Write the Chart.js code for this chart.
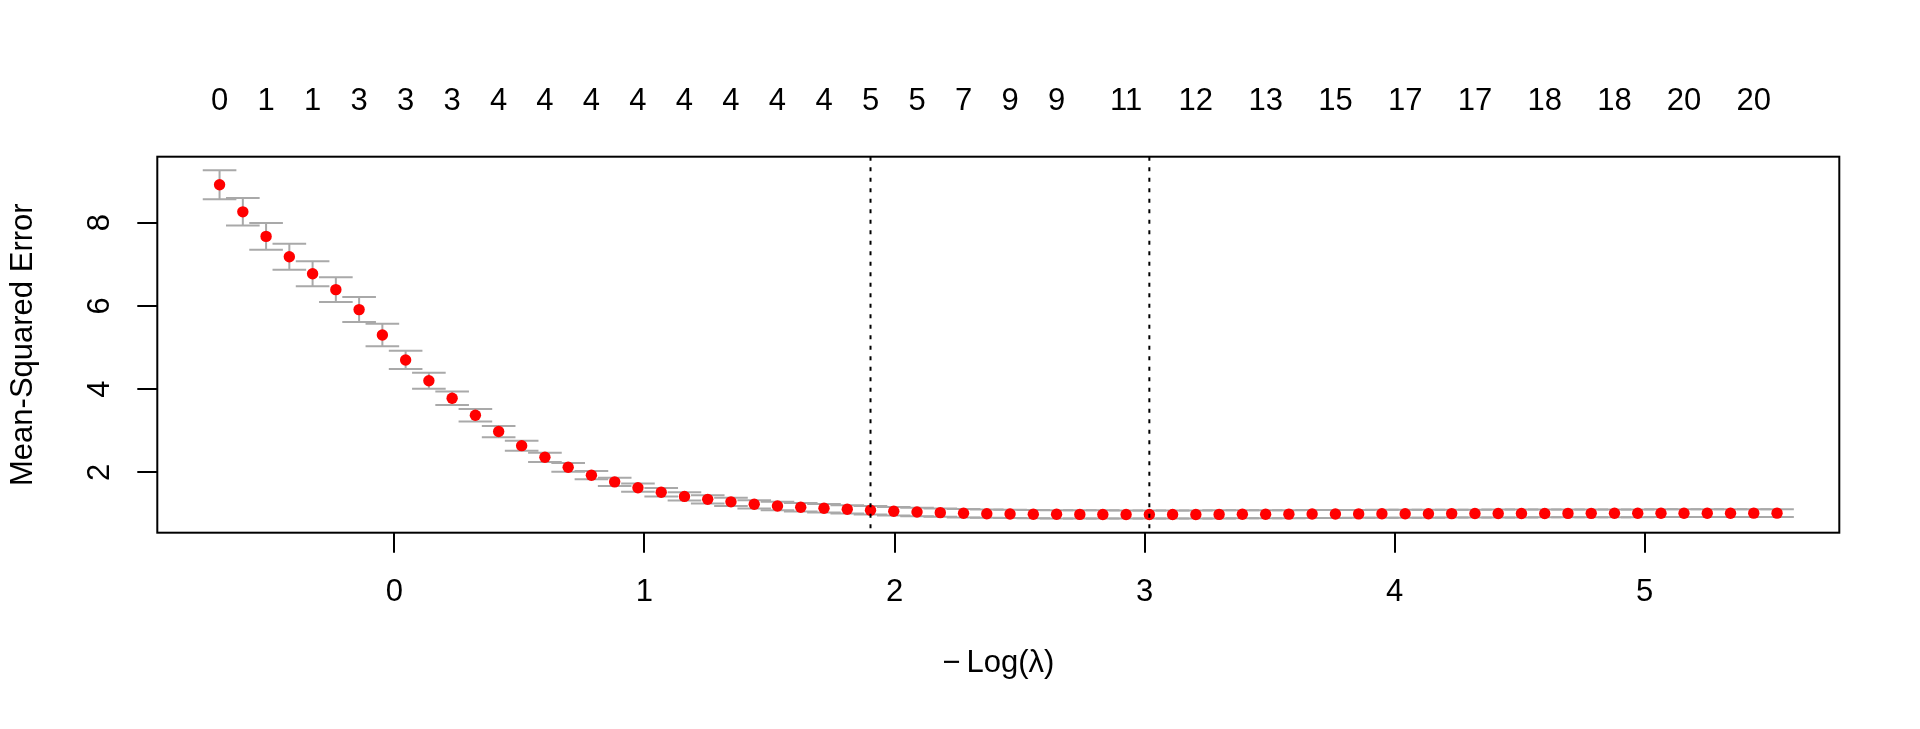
<!DOCTYPE html>
<html>
<head>
<meta charset="utf-8">
<title>cv.glmnet</title>
<script src="https://cdn.jsdelivr.net/npm/chart.js@4.4.1/dist/chart.umd.min.js"></script>
<style>
    html, body { margin: 0; padding: 0; background: #fff; }
    #wrap { width: 1920px; height: 729px; }
</style>
</head>
<body>
<div id="wrap"><canvas id="cvChart" width="1920" height="729"></canvas></div>
<script>
// -log(lambda) for each fitted lambda
const logLambda = [
    -0.699, -0.606, -0.513, -0.420, -0.327, -0.234, -0.141, -0.048, 0.045, 0.138,
    0.231, 0.324, 0.417, 0.509, 0.602, 0.695, 0.788, 0.881, 0.974, 1.067,
    1.160, 1.253, 1.346, 1.439, 1.532, 1.625, 1.718, 1.811, 1.904, 1.997,
    2.090, 2.183, 2.276, 2.369, 2.462, 2.555, 2.648, 2.741, 2.833, 2.926,
    3.019, 3.112, 3.205, 3.298, 3.391, 3.484, 3.577, 3.670, 3.763, 3.856,
    3.949, 4.042, 4.135, 4.228, 4.321, 4.414, 4.507, 4.600, 4.693, 4.786,
    4.879, 4.972, 5.065, 5.157, 5.250, 5.343, 5.436, 5.529
];

// cross-validated mean squared error
const cvm = [
    8.91, 8.26, 7.67, 7.18, 6.77, 6.39, 5.91, 5.30, 4.70, 4.20,
    3.78, 3.37, 2.98, 2.64, 2.36, 2.12, 1.93, 1.77, 1.63, 1.52,
    1.42, 1.35, 1.29, 1.23, 1.19, 1.16, 1.135, 1.11, 1.087, 1.063,
    1.046, 1.030, 1.015, 1.005, 0.998, 0.993, 0.990, 0.988, 0.987, 0.986,
    0.985, 0.986, 0.987, 0.988, 0.990, 0.992, 0.994, 0.996, 0.998, 1.000,
    1.002, 1.004, 1.005, 1.007, 1.008, 1.009, 1.010, 1.011, 1.012, 1.013,
    1.014, 1.015, 1.016, 1.016, 1.017, 1.017, 1.018, 1.018
];

// standard error of the cv estimate
const cvsd = [
    0.35, 0.33, 0.32, 0.31, 0.30, 0.30, 0.30, 0.27, 0.22, 0.19,
    0.16, 0.15, 0.135, 0.12, 0.11, 0.105, 0.10, 0.10, 0.10, 0.10,
    0.10, 0.10, 0.10, 0.10, 0.10, 0.10, 0.10, 0.10, 0.10, 0.10,
    0.10, 0.10, 0.10, 0.099, 0.099, 0.099, 0.098, 0.098, 0.098, 0.098,
    0.098, 0.097, 0.097, 0.097, 0.097, 0.096, 0.096, 0.096, 0.096, 0.095,
    0.095, 0.095, 0.095, 0.095, 0.094, 0.094, 0.094, 0.094, 0.094, 0.094,
    0.093, 0.093, 0.093, 0.093, 0.093, 0.093, 0.093, 0.093
];

// number of nonzero coefficients shown on the top axis
const topTickIdx = [0, 2, 4, 6, 8, 10, 12, 14, 16, 18, 20, 22, 24, 26, 28, 30, 32, 34, 36,
                    39, 42, 45, 48, 51, 54, 57, 60, 63, 66];
const topTickLabels = ['0', '1', '1', '3', '3', '3', '4', '4', '4', '4', '4', '4', '4', '4',
                       '5', '5', '7', '9', '9', '11', '12', '13', '15', '17', '17', '18', '18', '20', '20'];

const xTicks = [0, 1, 2, 3, 4, 5];
const yTicks = [2, 4, 6, 8];

const lambda1seIdx = 28;
const lambdaMinIdx = 40;

const X_MIN = -0.948, X_MAX = 5.778;
const Y_MIN = 0.548, Y_MAX = 9.585;
const FONT = '"Liberation Sans", Arial, Helvetica, sans-serif';
const FONT_SIZE = 31;

(function() {
    const points = logLambda.map((x, i) => ({ x: x, y: cvm[i] }));

    // grey error bars, drawn under the red points
    const errorBars = {
        id: 'errorBars',
        beforeDatasetsDraw(chart) {
            const { ctx, scales: { x, y } } = chart;
            const barw = (X_MAX - X_MIN) * 0.01;
            ctx.save();
            ctx.strokeStyle = '#a9a9a9';
            ctx.lineWidth = 2;
            logLambda.forEach((lx, i) => {
                const up = y.getPixelForValue(cvm[i] + cvsd[i]);
                const lo = y.getPixelForValue(cvm[i] - cvsd[i]);
                const px = x.getPixelForValue(lx);
                const l = x.getPixelForValue(lx - barw);
                const r = x.getPixelForValue(lx + barw);
                ctx.beginPath();
                ctx.moveTo(px, up); ctx.lineTo(px, lo);
                ctx.moveTo(l, up); ctx.lineTo(r, up);
                ctx.moveTo(l, lo); ctx.lineTo(r, lo);
                ctx.stroke();
            });
            ctx.restore();
        }
    };

    // dotted lambda lines, y tick labels and the frame
    const frame = {
        id: 'frame',
        afterDraw(chart) {
            const { ctx, chartArea: a, scales: { x, y } } = chart;
            ctx.save();
            ctx.strokeStyle = '#000';
            ctx.lineWidth = 2;
            ctx.setLineDash([4, 6.5]);
            [lambda1seIdx, lambdaMinIdx].forEach(idx => {
                const px = x.getPixelForValue(logLambda[idx]);
                ctx.beginPath();
                ctx.moveTo(px, a.top);
                ctx.lineTo(px, a.bottom);
                ctx.stroke();
            });
            ctx.setLineDash([]);
            ctx.strokeRect(a.left, a.top, a.right - a.left, a.bottom - a.top);

            ctx.fillStyle = '#000';
            ctx.font = FONT_SIZE + 'px ' + FONT;
            ctx.textAlign = 'center';
            ctx.textBaseline = 'middle';
            y.ticks.forEach(t => {
                ctx.save();
                ctx.translate(100, y.getPixelForValue(t.value));
                ctx.rotate(-Math.PI / 2);
                ctx.fillText(String(t.value), 0, 0);
                ctx.restore();
            });
            ctx.restore();
        }
    };

    new Chart(document.getElementById('cvChart'), {
        type: 'scatter',
        data: {
            datasets: [{
                data: points,
                backgroundColor: '#ff0000',
                borderWidth: 0,
                pointRadius: 5.7,
                pointHoverRadius: 5.7
            }]
        },
        options: {
            responsive: false,
            animation: false,
            devicePixelRatio: 1,
            layout: { padding: { left: 0, top: 0, right: 80.7, bottom: 0 } },
            plugins: { legend: { display: false }, tooltip: { enabled: false } },
            scales: {
                x: {
                    type: 'linear',
                    position: 'bottom',
                    min: X_MIN,
                    max: X_MAX,
                    afterBuildTicks(s) { s.ticks = xTicks.map(v => ({ value: v })); },
                    afterFit(s) { s.height = 729 - 532.7; },
                    grid: { drawOnChartArea: false, drawTicks: true, tickLength: 20, color: '#000', lineWidth: 2 },
                    border: { display: false },
                    ticks: {
                        color: '#000',
                        font: { family: FONT, size: FONT_SIZE },
                        padding: 21.2,
                        maxRotation: 0,
                        autoSkip: false
                    },
                    title: {
                        display: true,
                        text: '\u2212\u2009Log(\u03bb)',
                        color: '#000',
                        font: { family: FONT, size: FONT_SIZE },
                        padding: { top: 0, bottom: 47.1 }
                    }
                },
                x2: {
                    type: 'linear',
                    position: 'top',
                    min: X_MIN,
                    max: X_MAX,
                    afterBuildTicks(s) { s.ticks = topTickIdx.map(i => ({ value: logLambda[i] })); },
                    afterFit(s) { s.height = 156.7; },
                    grid: { display: false, drawTicks: false },
                    border: { display: false },
                    ticks: {
                        color: '#000',
                        font: { family: FONT, size: FONT_SIZE },
                        padding: 36.4,
                        maxRotation: 0,
                        autoSkip: false,
                        callback: (v, i) => topTickLabels[i]
                    }
                },
                y: {
                    type: 'linear',
                    position: 'left',
                    min: Y_MIN,
                    max: Y_MAX,
                    afterBuildTicks(s) { s.ticks = yTicks.map(v => ({ value: v })); },
                    afterFit(s) { s.width = 157.3; },
                    grid: { drawOnChartArea: false, drawTicks: true, tickLength: 20, color: '#000', lineWidth: 2 },
                    border: { display: false },
                    ticks: { display: false },
                    title: {
                        display: true,
                        text: 'Mean-Squared Error',
                        color: '#000',
                        font: { family: FONT, size: FONT_SIZE },
                        padding: { top: 4.7, bottom: 0 }
                    }
                }
            }
        },
        plugins: [errorBars, frame]
    });
})();
</script>
</body>
</html>
